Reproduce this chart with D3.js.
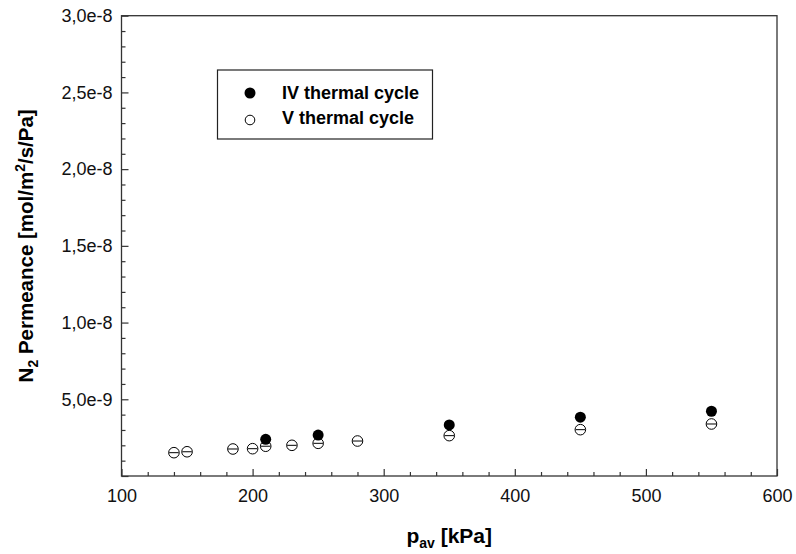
<!DOCTYPE html>
<html>
<head>
<meta charset="utf-8">
<script src="https://cdn.jsdelivr.net/npm/d3@7"></script>
<style>
  body { margin: 0; background: white; }
  svg { display: block; font-family: "Liberation Sans", Arial, sans-serif; }
</style>
</head>
<body>
<svg id="chart"></svg>
<script>
// IV thermal cycle (filled circles)
let ivPressure = [210, 250, 350, 450, 550];
let ivPermeance = [2.39e-9, 2.67e-9, 3.33e-9, 3.83e-9, 4.22e-9];

// V thermal cycle (open circles)
let vPressure = [140, 150, 185, 200, 210, 230, 250, 280, 350, 450, 550];
let vPermeance = [1.52e-9, 1.58e-9, 1.76e-9, 1.78e-9, 1.94e-9, 2.0e-9, 2.13e-9, 2.28e-9, 2.63e-9, 3.02e-9, 3.39e-9];

let xTicks = [100, 200, 300, 400, 500, 600];
let yTicks = [0, 5e-9, 1e-8, 1.5e-8, 2e-8, 2.5e-8, 3e-8];
let legendLabels = ['IV thermal cycle', 'V thermal cycle'];

function createGraph() {
  let width = 796;
  let height = 554;
  let margin = { top: 15.7, bottom: 78, left: 121.5, right: 19 };

  let svg = d3.select('#chart');
  svg.selectAll('*').remove();
  svg.attr('width', width).attr('height', height);

  let xScale = d3.scaleLinear()
    .domain([100, 600])
    .range([margin.left, width - margin.right]);

  let yScale = d3.scaleLinear()
    .domain([0, 3e-8])
    .range([height - margin.bottom, margin.top]);

  let fmt = v => v === 0 ? '' : d3.format('.1e')(v).replace('.', ',');

  let x0 = margin.left, x1 = width - margin.right;
  let y0 = height - margin.bottom, y1 = margin.top;

  // frame
  svg.append('rect')
    .attr('x', x0).attr('y', y1)
    .attr('width', x1 - x0).attr('height', y0 - y1)
    .attr('fill', 'none')
    .attr('stroke', '#333')
    .attr('stroke-width', 1.3);

  // minor ticks
  let xMinor = d3.range(100, 601, 20).filter(v => v % 100 !== 0);
  let yMinor = d3.range(0, 31).map(i => i * 1e-9).filter((v, i) => i % 5 !== 0 && i > 0 && i < 30);

  svg.append('g')
    .attr('transform', `translate(0, ${y0})`)
    .call(d3.axisBottom(xScale).tickValues(xMinor).tickSize(-4).tickFormat(''))
    .call(g => g.select('.domain').remove());

  svg.append('g')
    .attr('transform', `translate(${x0}, 0)`)
    .call(d3.axisLeft(yScale).tickValues(yMinor).tickSize(-4).tickFormat(''))
    .call(g => g.select('.domain').remove());

  // major ticks + labels
  svg.append('g')
    .attr('transform', `translate(0, ${y0})`)
    .call(d3.axisBottom(xScale).tickValues(xTicks).tickSize(-7).tickPadding(13))
    .call(g => g.select('.domain').remove())
    .selectAll('text')
    .style('font-size', '18px')
    .style('fill', '#111');

  svg.append('g')
    .attr('transform', `translate(${x0}, 0)`)
    .call(d3.axisLeft(yScale).tickValues(yTicks).tickSize(-7).tickPadding(9).tickFormat(fmt))
    .call(g => g.select('.domain').remove())
    .selectAll('text')
    .style('font-size', '18px')
    .style('fill', '#111');

  svg.selectAll('.tick line').attr('stroke', '#333').attr('stroke-width', 1.2);

  // axis titles
  let xt = svg.append('text')
    .attr('x', (x0 + x1) / 2)
    .attr('y', 543)
    .attr('text-anchor', 'middle')
    .style('font-size', '21px')
    .style('font-weight', 'bold');
  xt.append('tspan').text('p');
  xt.append('tspan').attr('dy', 5).style('font-size', '14px').text('av');
  xt.append('tspan').attr('dy', -5).text(' [kPa]');

  let yt = svg.append('text')
    .attr('transform', `translate(33, ${(y0 + y1) / 2}) rotate(-90)`)
    .attr('text-anchor', 'middle')
    .style('font-size', '20.5px')
    .style('font-weight', 'bold');
  yt.append('tspan').text('N');
  yt.append('tspan').attr('dy', 5).style('font-size', '14px').text('2');
  yt.append('tspan').attr('dy', -5).text(' Permeance [mol/m');
  yt.append('tspan').attr('dy', -8).style('font-size', '14px').text('2');
  yt.append('tspan').attr('dy', 8).text('/s/Pa]');

  // V thermal cycle points (open with bar)
  let vData = vPressure.map((p, i) => ({ p: p, v: vPermeance[i] }));
  let vg = svg.append('g').selectAll('g')
    .data(vData)
    .enter()
    .append('g')
    .attr('transform', d => `translate(${xScale(d.p)}, ${yScale(d.v)})`);
  vg.append('circle')
    .attr('r', 5.3)
    .attr('fill', 'white')
    .attr('stroke', 'black')
    .attr('stroke-width', 1);
  vg.append('line')
    .attr('x1', -4.8).attr('x2', 4.8)
    .attr('stroke', 'black')
    .attr('stroke-width', 1);

  // IV thermal cycle points
  let ivData = ivPressure.map((p, i) => ({ p: p, v: ivPermeance[i] }));
  svg.append('g').selectAll('circle')
    .data(ivData)
    .enter()
    .append('circle')
    .attr('cx', d => xScale(d.p))
    .attr('cy', d => yScale(d.v))
    .attr('r', 5.5)
    .attr('fill', 'black');

  // legend
  let lg = svg.append('g');
  lg.append('rect')
    .attr('x', 217.5).attr('y', 70)
    .attr('width', 215).attr('height', 69)
    .attr('fill', 'white')
    .attr('stroke', '#222')
    .attr('stroke-width', 1.2);
  lg.append('circle').attr('cx', 250).attr('cy', 93).attr('r', 5.5).attr('fill', 'black');
  lg.append('circle').attr('cx', 250).attr('cy', 120).attr('r', 4.8)
    .attr('fill', 'white').attr('stroke', 'black').attr('stroke-width', 1);
  lg.selectAll('text')
    .data(legendLabels)
    .enter()
    .append('text')
    .attr('x', 282)
    .attr('y', (d, i) => 99 + i * 25)
    .text(d => d)
    .style('font-size', '18px')
    .style('font-weight', 'bold');
}

createGraph();
</script>
</body>
</html>
